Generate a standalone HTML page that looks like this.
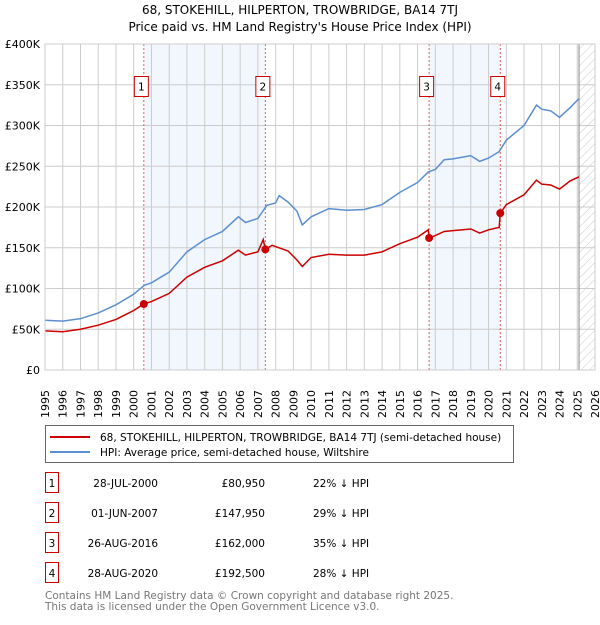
<!DOCTYPE html>
<html><head><meta charset="utf-8"><style>
body{margin:0;background:#fff;font-family:"Liberation Sans","DejaVu Sans",sans-serif;}
svg text{font-family:"DejaVu Sans","Liberation Sans",sans-serif;}
</style></head><body>
<svg id="c" width="600" height="620" viewBox="0 0 600 620" xmlns="http://www.w3.org/2000/svg">
<defs><pattern id="h" width="6" height="6" patternUnits="userSpaceOnUse" patternTransform="rotate(45)"><line x1="0" y1="0" x2="0" y2="6" stroke="#bbb" stroke-width="0.8"/></pattern></defs>
<text x="300" y="14" text-anchor="middle" font-size="12">68, STOKEHILL, HILPERTON, TROWBRIDGE, BA14 7TJ</text>
<text x="300" y="31" text-anchor="middle" font-size="12">Price paid vs. HM Land Registry's House Price Index (HPI)</text>
<g id="plot"></g>
<g>
<rect x="45.5" y="425.5" width="468" height="37" fill="#fff" stroke="#666"/>
<line x1="50" y1="437" x2="90" y2="437" stroke="#cc0000" stroke-width="2"/>
<text x="100" y="441" font-size="10.5">68, STOKEHILL, HILPERTON, TROWBRIDGE, BA14 7TJ (semi-detached house)</text>
<line x1="50" y1="452" x2="90" y2="452" stroke="#5b8fd0" stroke-width="2"/>
<text x="100" y="456" font-size="10.5">HPI: Average price, semi-detached house, Wiltshire</text>
</g>
<g id="tbl" font-size="10.5"></g>
<text x="45" y="599" font-size="10.5" fill="#777">Contains HM Land Registry data © Crown copyright and database right 2025.</text>
<text x="45" y="610" font-size="10.5" fill="#777">This data is licensed under the Open Government Licence v3.0.</text>
</svg>
<script>
const hpiYears=[1995,1996,1997,1998,1999,2000,2000.6,2001,2002,2003,2004,2005,2005.9,2006.3,2007,2007.5,2008,2008.2,2008.7,2009.2,2009.5,2010,2011,2012,2013,2014,2015,2016,2016.6,2017,2017.5,2018,2019,2019.5,2020,2020.6,2021,2022,2022.7,2023,2023.5,2024,2024.6,2025.1];
const hpiValues=[61,60,63,70,80,93,104,107,120,145,160,170,188,181,186,202,205,214,206,195,178,188,198,196,197,203,218,230,243,246,258,259,263,256,260,268,282,300,325,320,318,310,322,333];
const paidYears=[1995,1996,1997,1998,1999,2000,2000.57,2001,2002,2003,2004,2005,2005.9,2006.3,2007,2007.3,2007.42,2007.8,2008.7,2009.2,2009.5,2010,2011,2012,2013,2014,2015,2016,2016.6,2016.65,2017,2017.5,2018,2019,2019.5,2020,2020.6,2020.66,2021,2022,2022.7,2023,2023.5,2024,2024.6,2025.1];
const paidValues=[48,47,50,55,62,73,81,84,94,114,126,134,147,141,145,160,148,153,146,135,127,138,142,141,141,145,155,163,172,162,165,170,171,173,168,172,175,192,203,215,233,228,227,222,232,237];
const saleYears=[2000.57,2007.42,2016.65,2020.66];
const salePrices=[80.95,147.95,162.0,192.5];
const saleLabels=["1","2","3","4"];
const saleDates=["28-JUL-2000","01-JUN-2007","26-AUG-2016","28-AUG-2020"];
const salePriceText=["£80,950","£147,950","£162,000","£192,500"];
const salePct=["22% ↓ HPI","29% ↓ HPI","35% ↓ HPI","28% ↓ HPI"];
const yTicks=[0,50,100,150,200,250,300,350,400];
const yTickLabels=["£0","£50K","£100K","£150K","£200K","£250K","£300K","£350K","£400K"];
const xTicks=[1995,1996,1997,1998,1999,2000,2001,2002,2003,2004,2005,2006,2007,2008,2009,2010,2011,2012,2013,2014,2015,2016,2017,2018,2019,2020,2021,2022,2023,2024,2025,2026];
const dataEnd=2025.1;

const NS="http://www.w3.org/2000/svg";
const L=45,R=595,T=44,B=370;
const X=y=>L+(y-1995)*(R-L)/31;
const Y=v=>B-v*(B-T)/400;
const g=document.getElementById('plot');
function mk(tag,at,parent){const e=document.createElementNS(NS,tag);for(const k in at)e.setAttribute(k,at[k]);(parent||g).appendChild(e);return e;}
let e;
e=mk('rect',{x:L,y:T,width:R-L,height:B-T,fill:'#fff'});


for(let i=0;i<saleYears.length;i+=2){
 e=mk('rect',{x:X(saleYears[i]),y:T,width:X(saleYears[i+1])-X(saleYears[i]),height:B-T,fill:'#f2f6fd'});
 
 
}
e=mk('rect',{x:X(dataEnd),y:T,width:R-X(dataEnd),height:B-T,fill:'url(#h)'});


xTicks.forEach(t=>{
 e=mk('line',{x1:X(t),y1:T,x2:X(t),y2:B,stroke:'#ccc','stroke-width':1});
 
 
 e=mk('text',{x:0,y:0,transform:`translate(${X(t)+4},${B+48}) rotate(-90)`,'font-size':11});
 e.textContent=t;
 
 
});
yTicks.forEach((t,i)=>{
 e=mk('line',{x1:L,y1:Y(t),x2:R,y2:Y(t),stroke:'#ccc','stroke-width':1});
 
 
 e=mk('text',{x:L-5,y:Y(t)+4,'text-anchor':'end','font-size':11});
 e.textContent=yTickLabels[i];
 
 
});
e=mk('line',{x1:X(dataEnd),y1:T,x2:X(dataEnd),y2:B,stroke:'#888','stroke-width':1});


saleYears.forEach((s,i)=>{
 e=mk('line',{x1:X(s),y1:T,x2:X(s),y2:B,stroke:'#e06060','stroke-width':1,'stroke-dasharray':'2,2'});
 
 
});
e=mk('polyline',{points:hpiYears.map((y,i)=>X(y)+','+Y(hpiValues[i])).join(' '),fill:'none',stroke:'#5b8fd0','stroke-width':1.5});


e=mk('polyline',{points:paidYears.map((y,i)=>X(y)+','+Y(paidValues[i])).join(' '),fill:'none',stroke:'#cc0000','stroke-width':1.5});


saleYears.forEach((s,i)=>{
 e=mk('circle',{cx:X(s),cy:Y(salePrices[i]),r:4,fill:'#cc0000'});
 
 
 e=mk('rect',{x:X(s)-9.5,y:76.5,width:14,height:20,fill:'#fff',stroke:'#cc0000'});
 
 
 e=mk('text',{x:X(s)-2.5,y:90.5,'text-anchor':'middle','font-size':10.5});
 e.textContent=saleLabels[i];
 
 
});
e=mk('rect',{x:L,y:T,width:R-L,height:B-T,fill:'none',stroke:'#ccc'});


const tb=document.getElementById('tbl');
saleLabels.forEach((lab,i)=>{
 const cy=483+i*30;
 e=mk('rect',{x:45.5,y:cy-10.5,width:13,height:20,fill:'#fff',stroke:'#cc0000'},tb);
 
 
 e=mk('text',{x:52,y:cy+4,'text-anchor':'middle'},tb);e.textContent=lab;
 
 
 e=mk('text',{x:158,y:cy+4,'text-anchor':'end'},tb);e.textContent=saleDates[i];
 
 
 e=mk('text',{x:265,y:cy+4,'text-anchor':'end'},tb);e.textContent=salePriceText[i];
 
 
 e=mk('text',{x:313,y:cy+4},tb);e.textContent=salePct[i];
 
 
});
</script>
</body></html>
